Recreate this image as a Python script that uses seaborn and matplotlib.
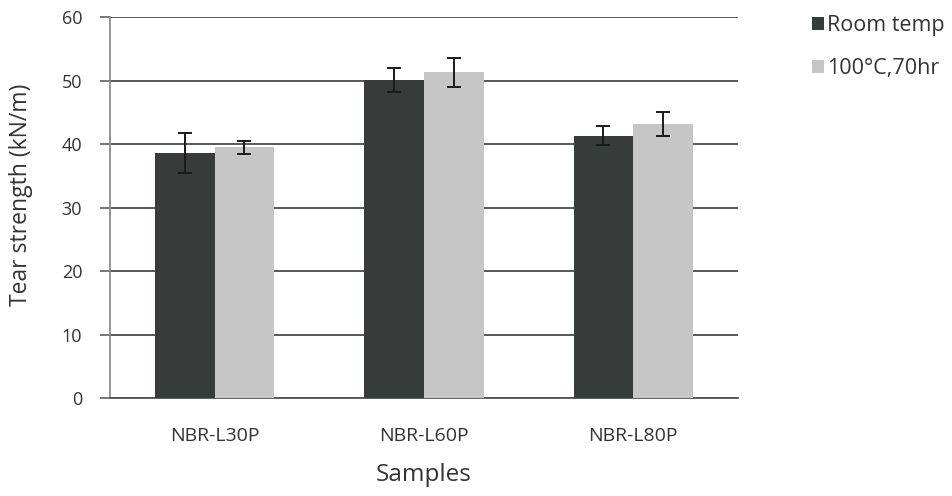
import matplotlib
matplotlib.use("Agg")
import matplotlib.pyplot as plt
import seaborn as sns
import pandas as pd
import numpy as np

categories = ["NBR-L30P", "NBR-L60P", "NBR-L80P"]
series_names = ["Room temp", "100°C,70hr"]
room_temp = [38.6, 50.1, 41.3]
room_temp_err = [3.1, 1.9, 1.5]
aged = [39.5, 51.3, 43.1]
aged_err = [1.0, 2.3, 1.9]
yticks = [0, 10, 20, 30, 40, 50, 60]

sns.set_theme(style="white")
plt.rcParams["font.family"] = ["Open Sans", "DejaVu Sans"]

df = pd.DataFrame({
    "Samples": categories * 2,
    "value": room_temp + aged,
    "err": room_temp_err + aged_err,
    "cond": [series_names[0]] * 3 + [series_names[1]] * 3,
})

fig = plt.figure(figsize=(9.52, 4.96), dpi=100)
ax = fig.add_axes([0.1155, 0.1976, 0.6595, 0.768])

palette = {series_names[0]: "#363c3a", series_names[1]: "#c6c6c6"}
sns.barplot(data=df, x="Samples", y="value", hue="cond", palette=palette,
            order=categories, hue_order=series_names, errorbar=None,
            width=0.57, gap=0, saturation=1, ax=ax, linewidth=0, zorder=3)

# error bars at bar centres
errs = room_temp_err + aged_err
vals = room_temp + aged
bars = [p for p in ax.patches if p.get_height() > 0][:6]
for p, v, e in zip(bars, vals, errs):
    cx = p.get_x() + p.get_width() / 2
    ax.errorbar(cx, v, yerr=e, fmt="none", ecolor="#1a1a1a", elinewidth=1.4,
                capsize=5, capthick=1.4, zorder=4)

ax.set_ylim(0, 60)
ax.set_xlim(-0.5, 2.5)
ax.set_yticks(yticks)
ax.yaxis.grid(True, color="#4a4a4a", linewidth=1.3, zorder=0)
ax.set_axisbelow(True)
for s in ["top", "right"]:
    ax.spines[s].set_visible(False)
ax.spines["left"].set_color("#888888")
ax.spines["bottom"].set_color("#555555")
ax.spines["bottom"].set_linewidth(1.3)
ax.tick_params(axis="y", left=True, length=7, color="#666666", labelsize=13,
               labelcolor="#333333", pad=13)
ax.tick_params(axis="x", bottom=False, labelsize=14, labelcolor="#333333", pad=15)
ax.set_ylabel("Tear strength (kN/m)", fontsize=16.5, color="#333333")
ax.yaxis.set_label_coords(-0.123, 0.533)
ax.set_xlabel("Samples", fontsize=17.5, color="#333333", labelpad=13)

leg = ax.legend(loc="upper left", bbox_to_anchor=(1.118, 1.005), frameon=False,
                fontsize=15.5, handlelength=0.55, handleheight=0.55,
                handletextpad=0.15, labelspacing=1.0, borderpad=0,
                borderaxespad=0)
for t in leg.get_texts():
    t.set_color("#333333")

fig.savefig("out.png", dpi=100)
